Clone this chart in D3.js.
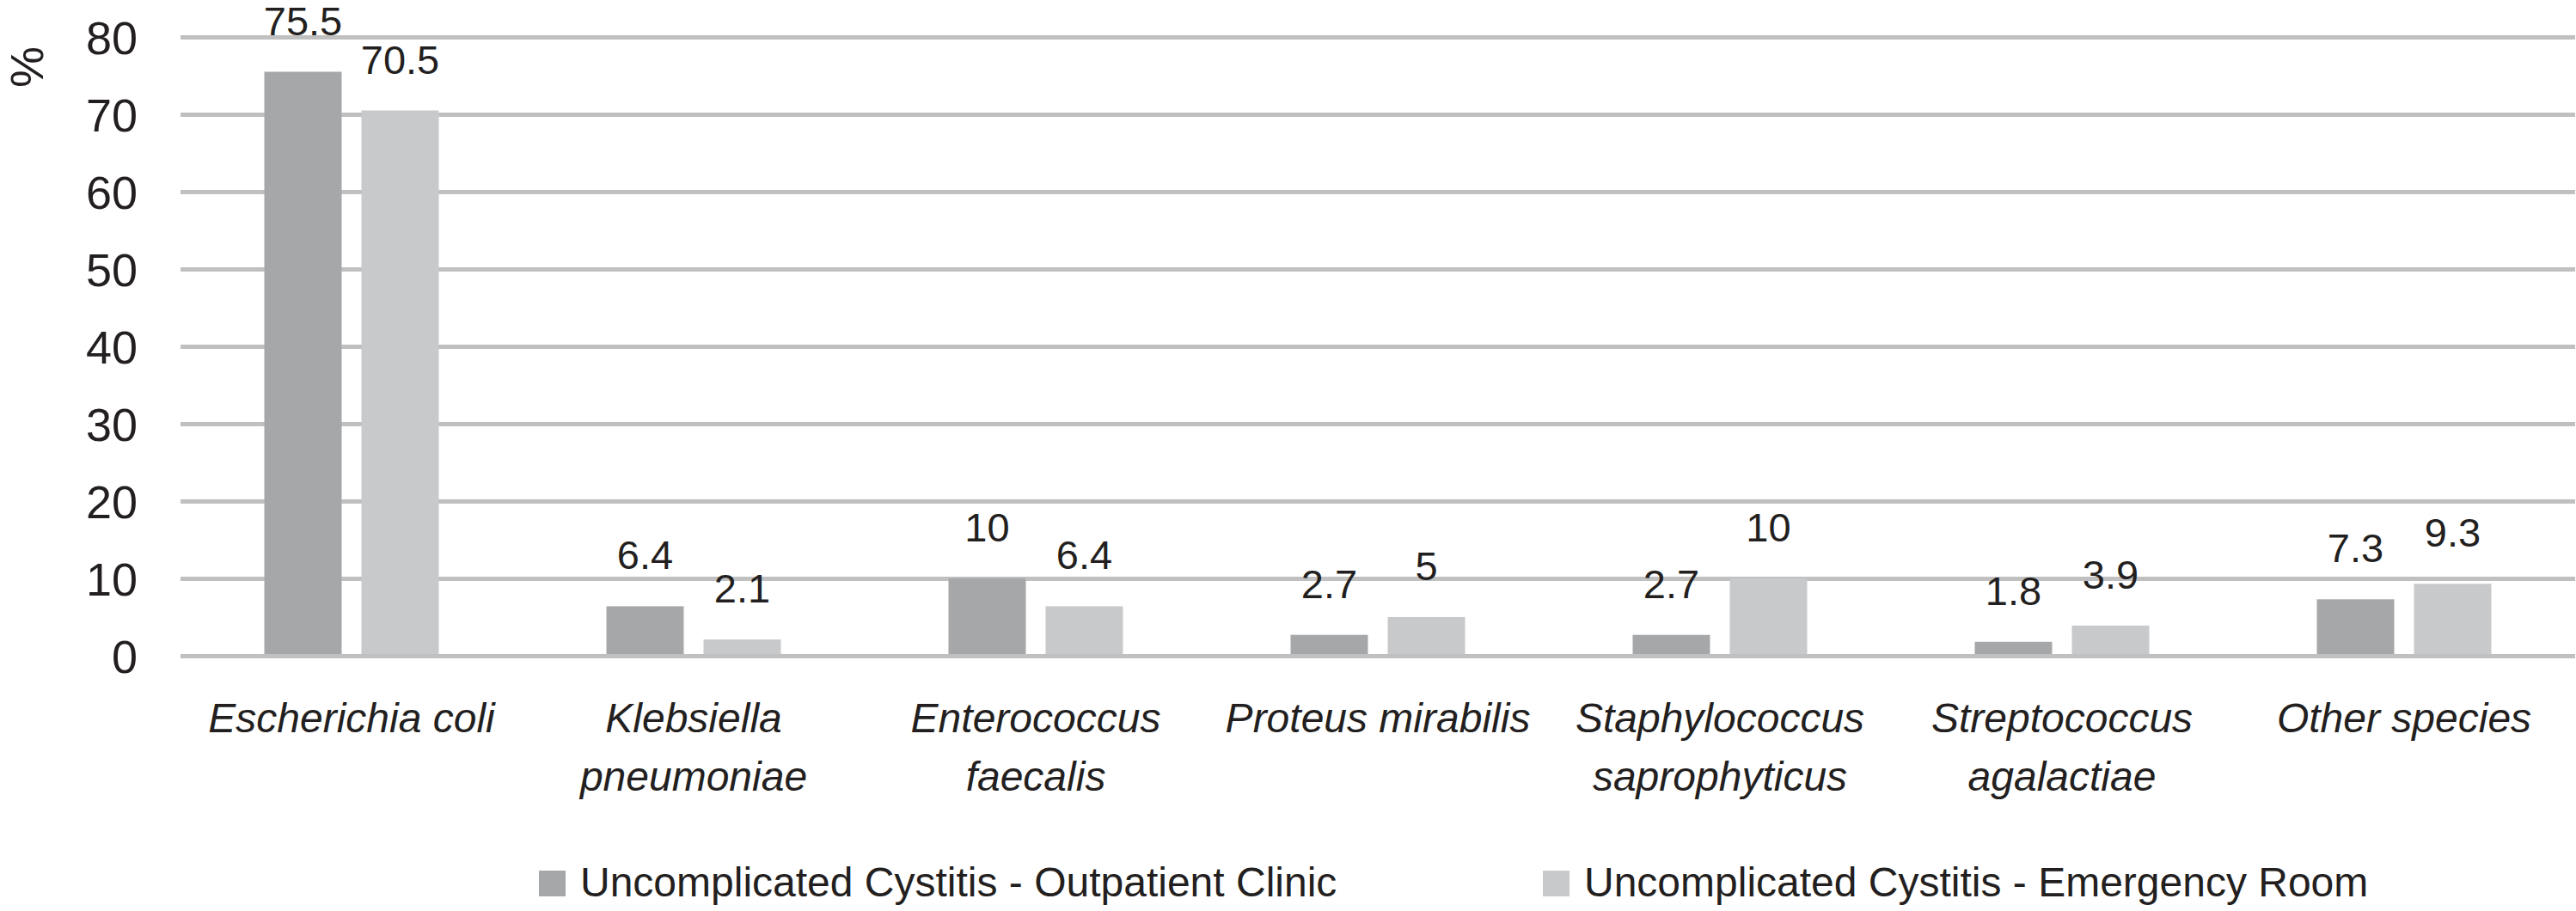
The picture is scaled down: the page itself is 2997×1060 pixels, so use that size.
<!DOCTYPE html>
<html>
<head>
<meta charset="utf-8">
<script src="https://cdn.jsdelivr.net/npm/d3@7"></script>
<style>
  body { margin: 0; background: #fff; }
  svg text { font-family: "Liberation Sans", Arial, sans-serif; fill: #231f20; }
</style>
</head>
<body>
<div id="chart"></div>
<script>
// chart data
var categories = ["Escherichia coli", "Klebsiella pneumoniae", "Enterococcus faecalis",
  "Proteus mirabilis", "Staphylococcus saprophyticus", "Streptococcus agalactiae", "Other species"];
var tickLines = [["Escherichia coli"], ["Klebsiella", "pneumoniae"], ["Enterococcus", "faecalis"],
  ["Proteus mirabilis"], ["Staphylococcus", "saprophyticus"], ["Streptococcus", "agalactiae"], ["Other species"]];
var outpatient = [75.5, 6.4, 10, 2.7, 2.7, 1.8, 7.3];
var emergency = [70.5, 2.1, 6.4, 5, 10, 3.9, 9.3];
var seriesNames = ["Uncomplicated Cystitis - Outpatient Clinic", "Uncomplicated Cystitis - Emergency Room"];
var yTicks = [0, 10, 20, 30, 40, 50, 60, 70, 80];

// svg area
var svgWidth = 2997;
var svgHeight = 1060;
var chartMargin = { top: 43, right: 1, bottom: 297, left: 210 };
var chartWidth = svgWidth - chartMargin.left - chartMargin.right;
var chartHeight = svgHeight - chartMargin.top - chartMargin.bottom;

var colors = ["#a6a7a9", "#c8c9cb"];

var svg = d3.select("#chart")
  .append("svg")
  .attr("width", svgWidth)
  .attr("height", svgHeight);

var chartGroup = svg.append("g")
  .attr("transform", `translate(${chartMargin.left}, ${chartMargin.top})`);

var rows = categories.map(function(c, i) {
  return { cat: c, values: [outpatient[i], emergency[i]] };
});

// scales
var x0 = d3.scaleBand().domain(categories).range([0, chartWidth]);
var pairWidth = 203;
var x1 = d3.scaleBand().domain([0, 1])
  .range([(x0.bandwidth() - pairWidth) / 2, (x0.bandwidth() + pairWidth) / 2])
  .paddingInner(23 / 113);
var yLinearScale = d3.scaleLinear().domain([0, 80]).range([chartHeight, 0]);

// y axis with gridlines
var leftAxis = d3.axisLeft(yLinearScale)
  .tickValues(yTicks)
  .tickSize(-chartWidth)
  .tickPadding(50);

var yAxis = chartGroup.append("g").call(leftAxis);
yAxis.select(".domain").remove();
yAxis.selectAll("line").attr("stroke", "#c0c0c0").attr("stroke-width", 5);
yAxis.selectAll("text")
  .style("font-size", "54px")
  .attr("dy", "0.36em");

// bars
var groups = chartGroup.selectAll(".cat")
  .data(rows)
  .enter()
  .append("g")
  .attr("class", "cat")
  .attr("transform", d => `translate(${x0(d.cat)}, 0)`);

groups.selectAll("rect")
  .data(d => d.values.map((v, j) => ({ s: j, v: v })))
  .enter()
  .append("rect")
  .attr("x", d => x1(d.s))
  .attr("y", d => yLinearScale(d.v))
  .attr("width", x1.bandwidth())
  .attr("height", d => chartHeight - yLinearScale(d.v) - 2)
  .attr("fill", d => colors[d.s]);

// value labels
groups.selectAll(".val")
  .data(d => d.values.map((v, j) => ({ s: j, v: v })))
  .enter()
  .append("text")
  .attr("class", "val")
  .attr("x", d => x1(d.s) + x1.bandwidth() / 2)
  .attr("y", d => yLinearScale(d.v) - 43)
  .attr("text-anchor", "middle")
  .style("font-size", "47px")
  .text(d => d.v);

// x axis labels
var bottomAxis = d3.axisBottom(x0).tickSize(0).tickFormat("");
var xAxis = chartGroup.append("g")
  .attr("transform", `translate(0, ${chartHeight})`)
  .call(bottomAxis);
xAxis.select(".domain").remove();

xAxis.selectAll(".tick")
  .append("text")
  .style("font-size", "48px")
  .style("font-style", "italic")
  .attr("text-anchor", "middle")
  .selectAll("tspan")
  .data((d, i) => tickLines[i])
  .enter()
  .append("tspan")
  .attr("x", 0)
  .attr("y", (d, i) => 89 + i * 68)
  .text(d => d);

// y title
svg.append("text")
  .attr("transform", "translate(50, 78) rotate(-90)")
  .attr("text-anchor", "middle")
  .style("font-size", "54px")
  .text("%");

// legend
var legendX = [627, 1795];
var legend = svg.selectAll(".legend")
  .data(seriesNames)
  .enter()
  .append("g")
  .attr("class", "legend")
  .attr("transform", (d, i) => `translate(${legendX[i]}, 1013)`);

legend.append("rect")
  .attr("width", 31)
  .attr("height", 30)
  .attr("fill", (d, i) => colors[i]);

legend.append("text")
  .attr("x", 48)
  .attr("y", 30)
  .style("font-size", "48px")
  .text(d => d);
</script>
</body>
</html>
